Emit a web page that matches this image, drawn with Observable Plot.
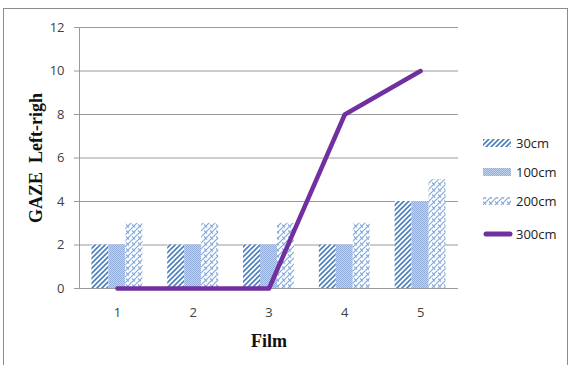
<!DOCTYPE html>
<html>
<head>
<meta charset="utf-8">
<script src="https://cdn.jsdelivr.net/npm/d3@7"></script>
<script src="https://cdn.jsdelivr.net/npm/@observablehq/plot@0.6"></script>
<style>
  body { margin: 0; background: #fff; }
  #wrap { position: relative; width: 571px; height: 365px; overflow: hidden; background: #fff; }
  #chart { position: absolute; left: 0; top: 0; }
  #frame { position: absolute; left: 3px; top: 8px; width: 565px; height: 400px; border: 1px solid #8c8c8c; box-sizing: border-box; pointer-events: none; }
  .lg { position: absolute; left: 483px; height: 16px; display: flex; align-items: center; font: 13px "Open Sans", sans-serif; color: #222; }
  .lg svg { margin-right: 3px; }
  #defs { position: absolute; width: 0; height: 0; }
</style>
</head>
<body>
<svg id="defs" width="0" height="0">
  <defs>
    <pattern id="p30" patternUnits="userSpaceOnUse" width="5" height="5">
      <rect width="5" height="5" fill="#fff"/>
      <path d="M-1,6 L6,-1 M-1,1 L1,-1 M4,6 L6,4" stroke="#4F81BD" stroke-width="1.7"/>
    </pattern>
    <pattern id="p100" patternUnits="userSpaceOnUse" width="2" height="2">
      <rect width="2" height="2" fill="#C2D3EC"/>
      <rect x="0" y="0" width="1" height="1" fill="#92ADDA"/>
      <rect x="1" y="1" width="1" height="1" fill="#92ADDA"/>
    </pattern>
    <pattern id="p200" patternUnits="userSpaceOnUse" width="6" height="6">
      <rect width="6" height="6" fill="#fff"/>
      <path d="M-1,7 L7,-1 M0,2.5 L3,5.5 M-1,1 L1,-1 M5,7 L7,5" stroke="#7FA9DE" stroke-width="1.2" fill="none"/>
    </pattern>
  </defs>
</svg>
<div id="wrap">
  <div id="chart"></div>
  <div id="frame"></div>
</div>
<script>
// Films on the x axis and the GAZE left-right counts per viewing distance
const films = [1, 2, 3, 4, 5];
const seriesNames = ["30cm", "100cm", "200cm", "300cm"];
const v30 = [2, 2, 2, 2, 4];
const v100 = [2, 2, 2, 2, 4];
const v200 = [3, 3, 3, 3, 5];
const v300 = [0, 0, 0, 8, 10];
const yTicks = [0, 2, 4, 6, 8, 10, 12];

const barSeries = [
  {name: "30cm", values: v30, fill: "url(#p30)", k: -1},
  {name: "100cm", values: v100, fill: "url(#p100)", k: 0},
  {name: "200cm", values: v200, fill: "url(#p200)", k: 1}
];
const step = 0.224;      // bar width in film units
const half = step / 2;

const lineData = films.map((f, i) => ({film: f, value: v300[i]}));

const gridColor = "#9a9a9a";
const tickFont = "'Open Sans', sans-serif";
const titleFont = "'Liberation Serif', 'Times New Roman', serif";

const marks = [
  Plot.gridY(yTicks, {stroke: gridColor, strokeOpacity: 1}),
  Plot.ruleX([0.5], {stroke: gridColor})
];
for (const s of barSeries) {
  const rows = films.map((f, i) => ({film: f, value: s.values[i]}));
  marks.push(Plot.rectY(rows, {
    x1: d => d.film + s.k * step - half,
    x2: d => d.film + s.k * step + half,
    y1: 0,
    y2: "value",
    fill: s.fill
  }));
}
marks.push(
  Plot.line(lineData, {x: "film", y: "value", stroke: "#7030A0", strokeWidth: 4.5, strokeLinecap: "round", strokeLinejoin: "round"}),
  Plot.axisY(yTicks, {tickSize: 5, tickPadding: 10, stroke: gridColor, fill: "#404040", fontSize: 13, fontFamily: tickFont, label: null}),
  Plot.axisX(films, {tickSize: 0, tickPadding: 19, fill: "#404040", fontSize: 13, fontFamily: tickFont, label: null}),
  Plot.text(["Film"], {frameAnchor: "bottom", dy: 58, fontFamily: titleFont, fontWeight: "bold", fontSize: 18, fill: "#111"}),
  Plot.text(["GAZE\u00a0\u00a0Left-righ"], {frameAnchor: "left", textAnchor: "middle", dx: -43, rotate: -90, fontFamily: titleFont, fontWeight: "bold", fontSize: 18, fill: "#111"})
);

const chart = Plot.plot({
  width: 571,
  height: 365,
  marginLeft: 79,
  marginRight: 113,
  marginTop: 27,
  marginBottom: 77,
  x: {type: "linear", domain: [0.5, 5.5], axis: null},
  y: {domain: [0, 12], axis: null},
  style: {background: "transparent", overflow: "visible"},
  marks
});
document.getElementById("chart").append(chart);

// Legend on the right
const wrap = document.getElementById("wrap");
const legendY = [143, 172, 201, 234];
const swatch = {
  "30cm": '<rect x="0" y="4" width="28" height="8" fill="url(#p30)"/>',
  "100cm": '<rect x="0" y="4" width="28" height="8" fill="url(#p100)"/>',
  "200cm": '<rect x="0" y="4" width="28" height="8" fill="url(#p200)"/>',
  "300cm": '<line x1="3" y1="8" x2="27" y2="8" stroke="#7030A0" stroke-width="5" stroke-linecap="round"/>'
};
seriesNames.forEach((name, i) => {
  const div = document.createElement("div");
  div.className = "lg";
  div.style.top = (legendY[i] - 8) + "px";
  div.innerHTML = `<svg width="30" height="16">${swatch[name]}</svg><span>${name}</span>`;
  wrap.append(div);
});
</script>
</body>
</html>
